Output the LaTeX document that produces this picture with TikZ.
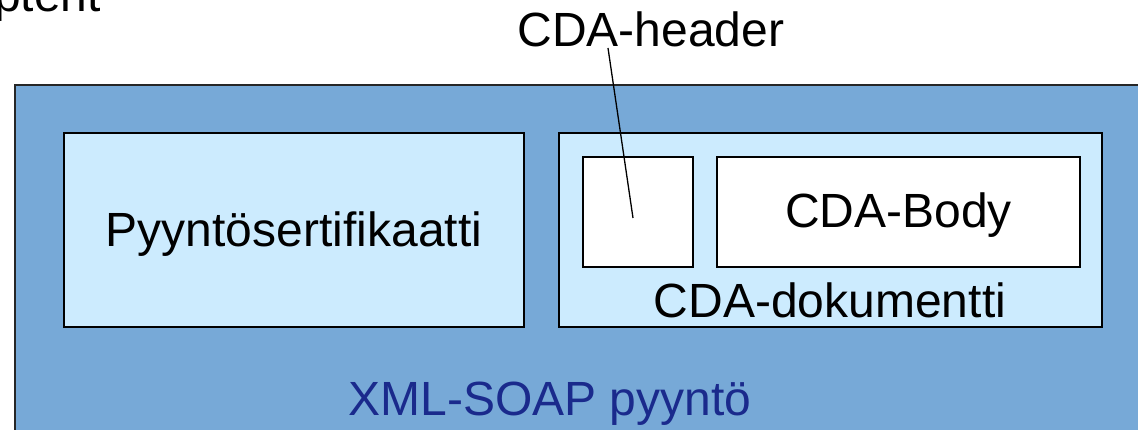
\documentclass[tikz,border=0pt]{standalone}
\usepackage{fontspec}
\setmainfont{Liberation Sans}
\definecolor{soapblue}{HTML}{77A9D7}
\definecolor{paleblue}{HTML}{CCEBFE}
\definecolor{navytext}{HTML}{1A2A8C}
\begin{document}
\begin{tikzpicture}[x=1pt,y=1pt,
  box/.style={draw=black, line width=1.3pt, inner sep=0pt, outer sep=0pt},
  lbl/.style={inner sep=0pt, anchor=base, font=\fontsize{48}{57}\selectfont}]
\useasboundingbox (0,0) rectangle (1138,430);
% outer request envelope
\node[box, draw=black!85, fill=soapblue, anchor=north west,
      minimum width=1140pt, minimum height=360pt] (soap) at (15,345) {};
% certificate and CDA document
\node[box, fill=paleblue, minimum width=460pt, minimum height=194pt] (cert) at (294,200) {};
\node[box, fill=paleblue, minimum width=543pt, minimum height=194pt] (cda) at (830.5,200) {};
% header and body parts of the document
\node[box, fill=white, minimum width=110pt, minimum height=110pt] (hdr) at (638,218) {};
\node[box, fill=white, minimum width=363pt, minimum height=110pt] (body) at (898.5,218) {};
% texts
\node[lbl] (certtxt) at (294,183) {Pyyntösertifikaatti};
\node[lbl] (bodytxt) at (898.5,202) {CDA-Body};
\node[lbl] (cdatxt) at (830,112) {CDA-dokumentti};
\node[lbl, text=navytext] (soaptxt) at (550,14) {XML-SOAP pyyntö};
\node[lbl] (hdrtxt) at (651,383) {CDA-header};
\node[lbl, anchor=base east] (toptxt) at (101,418) {ptent};
% pointer from the header caption into the header box
\coordinate (hdrtail) at (608,382);
\coordinate (hdrtip) at (633,212);
\draw[line width=1.3pt] (hdrtail) -- (hdrtip);
\end{tikzpicture}
\end{document}
